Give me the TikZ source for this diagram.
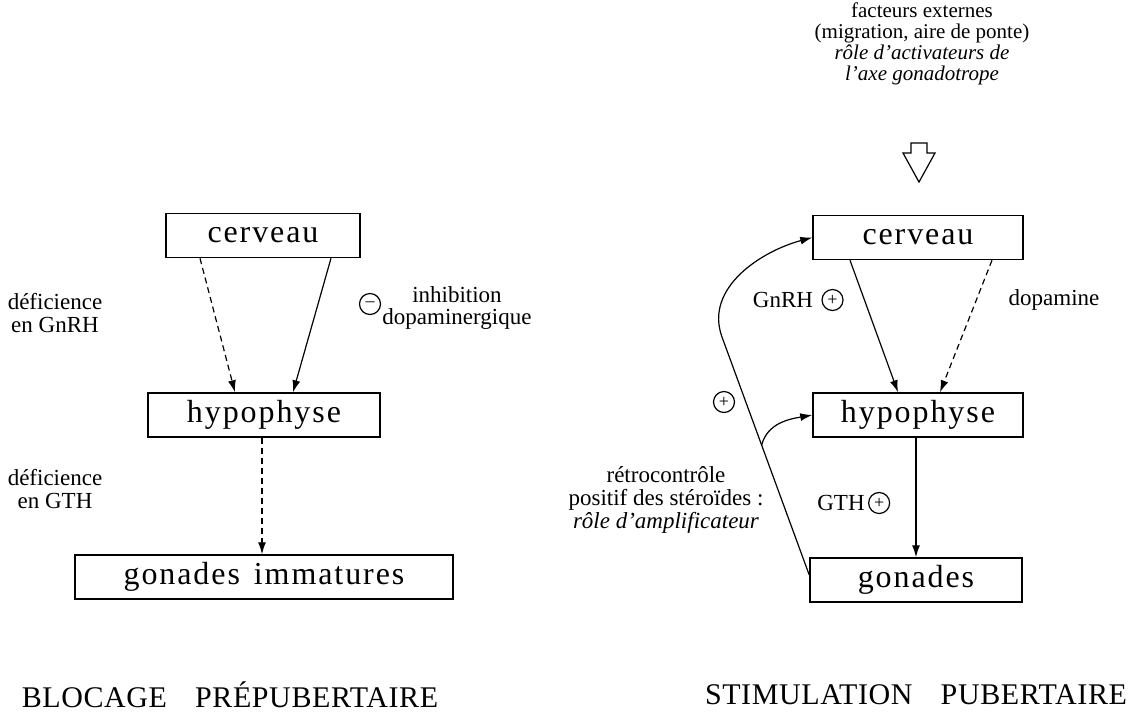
\documentclass[tikz,border=0pt]{standalone}
\usepackage{fontspec}
\setmainfont{Liberation Serif}
\newfontfamily\boxfont[LetterSpace=6]{Liberation Serif}
\newfontfamily\titlefont[LetterSpace=2]{Liberation Serif}
\usetikzlibrary{calc,arrows.meta,positioning}

\begin{document}
\begin{tikzpicture}[x=0.5pt, y=-0.5pt,
    organ/.style={draw, line width=0.75pt, inner sep=0pt, minimum height=22pt, font=\boxfont\fontsize{16}{18}\selectfont},
    lbl/.style={align=center, inner sep=0pt, font=\fontsize{11.5}{11.3}\selectfont},
    sign/.style={circle, draw, line width=0.6pt, inner sep=0pt, minimum size=10.5pt, font=\fontsize{9}{9}\selectfont},
    flow/.style={line width=0.6pt, -{Latex[length=6pt,width=4pt]}},
    gap/.style={dash pattern=on 3pt off 2pt},
    heading/.style={inner sep=0pt, font=\titlefont\fontsize{15}{17}\selectfont}]

    \useasboundingbox (0,0) rectangle (1147,720);

    % blocage prepubertaire
    \node[organ, minimum width=97pt] (cerveauL) at (263,235.5) {cerveau};
    \node[organ, minimum width=116pt] (hypoL) at (264,415) {hypophyse};
    \node[organ, minimum width=189pt] (gonL) at (264,577) {gonades\hspace{2pt} immatures};

    \draw[flow, gap] ($(cerveauL.south)+(-63,0)$) -- ($(hypoL.north)+(-29,0)$);
    \draw[flow] ($(cerveauL.south)+(68,0)$) -- ($(hypoL.north)+(29,0)$);
    \draw[flow, gap] ($(hypoL.south)+(-2,0)$) -- ($(gonL.north)+(-2,0)$);

    \node[lbl] (defGnRH) at (55,313) {déficience\\en GnRH};
    \node[lbl] (defGTH) at (55,489) {déficience\\en GTH};
    \node[sign] (minusL) at (370,304) {--};
    \node[lbl] (inhib) at (457,308) {inhibition\\dopaminergique};

    \node[heading] (titleL) at (230,695) {BLOCAGE\hspace{10pt} PRÉPUBERTAIRE};

    % stimulation pubertaire
    \node[lbl, font=\fontsize{10.5}{10.4}\selectfont] (ext) at (922,44) {facteurs externes\\(migration, aire de ponte)\\\textit{rôle d’activateurs de}\\\textit{l’axe gonadotrope}};
    \draw[line width=0.6pt] (911,143) -- (927,143) -- (927,153) -- (935,153) -- (919,182) -- (903,153) -- (911,153) -- cycle;

    \node[organ, minimum width=105pt] (cerveauR) at (918,237.5) {cerveau};
    \node[organ, minimum width=105pt] (hypoR) at (918,415) {hypophyse};
    \node[organ, minimum width=106pt] (gonR) at (916,580) {gonades};

    \draw[flow] ($(cerveauR.south)+(-68,0)$) -- ($(hypoR.north)+(-20,0)$);
    \draw[flow, gap] ($(cerveauR.south)+(74,0)$) -- ($(hypoR.north)+(22,0)$);
    \draw[flow] ($(hypoR.south)+(-2,0)$) -- (gonR.north);

    \node[lbl] (gnrh) at (783,300) {GnRH};
    \node[sign, right=4pt of gnrh] (plusGnRH) {+};
    \node[lbl] (dopa) at (1054,300) {dopamine};
    \node[lbl] (gth) at (841,503) {GTH};
    \node[sign, right=1.5pt of gth] (plusGTH) {+};

    % retrocontrole
    \coordinate (fbstart) at ($(gonR.west)+(0,-5)$);
    \coordinate (bend) at (722,337);
    \draw[flow] (fbstart) -- (bend) to[out=110, in=195] (cerveauR.west);
    \draw[flow] ($(fbstart)!0.546!(bend)$) to[out=75, in=190] (hypoR.west);
    \node[sign] (plusFb) at (724,402) {+};
    \node[lbl] (retro) at (666,500) {rétrocontrôle\\positif des stéroïdes :\\\textit{rôle d’amplificateur}};

    \node[heading] (titleR) at (916,695) {STIMULATION\hspace{10pt} PUBERTAIRE};
\end{tikzpicture}
\end{document}
